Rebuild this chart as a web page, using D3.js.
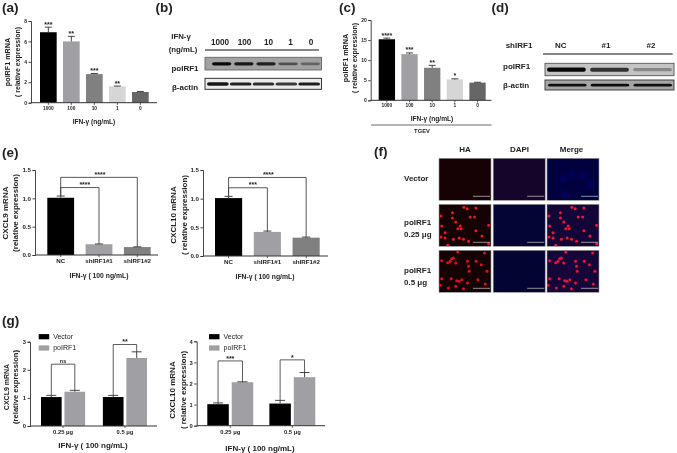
<!DOCTYPE html>
<html><head><meta charset="utf-8">
<script src="https://cdn.jsdelivr.net/npm/d3@7/dist/d3.min.js"></script>
<style>
html,body{margin:0;padding:0;background:#fff}
svg{display:block;filter:blur(0.3px)}
text{font-family:"Liberation Sans",Arial,sans-serif;fill:#222}
</style></head><body><div id="c"></div>
<script>
// ---- data ----
const doseLabels = ["1000","100","10","1","0"];
const shLabels = ["NC","shIRF1#1","shIRF1#2"];
const doseGroups = ["0.25 μg","0.5 μg"];
const gSeries = ["Vector","poIRF1"];
const doseColors = ["#000000","#a0a0a4","#808080","#d6d6d6","#666666"];
const shColors = ["#000000","#a0a0a4","#808080"];
const gColors = ["#000000","#a0a0a4"];

const aValues = [6.9,6.0,2.8,1.6,1.05];
const aErrors = [0.5,0.5,0.06,0.03,0.05];
const aStars = ["***","**","***","**",""];
const aTicks = [0,2,4,6,8];

const cValues = [15.2,11.5,8.1,5.2,4.4];
const cErrors = [0.3,0.3,0.6,0.15,0.1];
const cStars = ["****","***","**","*",""];
const cTicks = [0,5,10,15,20];

const e1Values = [1.01,0.19,0.14];
const e1Errors = [0.03,0.005,0.004];
const e2Values = [1.01,0.42,0.32];
const e2Errors = [0.03,0.015,0.01];
const eTicks = [0,0.5,1.0,1.5];
const e1Brackets = [{to:1,level:1.19,label:"****"},{to:2,level:1.37,label:"****"}];
const e2Brackets = [{to:1,level:1.19,label:"***"},{to:2,level:1.37,label:"****"}];

const g1Values = [[1.03,1.22],[1.03,2.42]];
const g1Errors = [[0.06,0.05],[0.06,0.22]];
const g1Sig = [{level:2.2,label:"ns"},{level:2.9,label:"**"}];
const g1Ticks = [0,1,2,3];
const g2Values = [[1.02,2.06],[1.05,2.3]];
const g2Errors = [[0.06,0.02],[0.15,0.22]];
const g2Sig = [{level:3.07,label:"***"},{level:3.12,label:"*"}];
const g2Ticks = [0,1,2,3,4];

// western blot band darkness per lane
const bTop = [0.95,0.85,0.8,0.5,0.38];
const bActin = [0.9,0.85,0.8,0.75,0.88];
const dTop = [0.95,0.75,0.3];
const dActin = [0.9,0.92,0.9];

// fluorescence spots (HA channel)
const spots025 = [[18,42],[52,32],[86,16],[96,20],[122,18],[52,48],[105,45],[118,45],[62,60],[75,72],[68,80],[78,80],[20,72],[30,92],[18,105],[30,108],[55,112],[72,108],[85,112],[122,86],[140,102],[160,70],[38,130],[160,125],[100,118]];
const spots05 = [[45,40],[38,44],[50,32],[55,30],[20,38],[62,45],[97,40],[100,55],[102,70],[123,40],[138,50],[155,70],[20,92],[48,92],[65,98],[80,95],[72,100],[97,105],[128,95],[15,112],[62,115],[85,122],[150,108],[40,120],[68,12],[148,15]];
const blueBlobs = [[60,68],[88,55],[120,60],[140,85],[65,115]];

// ---- helpers ----
const svg = d3.select("#c").append("svg").attr("width",677).attr("height",453).attr("viewBox","0 0 677 453");
const defs = svg.append("defs");
[["b0",0.6],["b1",0.7],["b2",1.6]].forEach(([id,s])=>defs.append("filter").attr("id",id).attr("x","-50%").attr("y","-150%").attr("width","200%").attr("height","400%").append("feGaussianBlur").attr("stdDeviation",s));

function label(x,y,t,o={}){
  const n = svg.append("text").attr("x",x).attr("y",y).text(t)
    .attr("font-size",o.size||6).attr("font-weight",o.weight||"bold")
    .attr("text-anchor",o.anchor||"middle").attr("fill",o.fill||"#222");
  if(o.rot!==undefined) n.attr("transform",`rotate(${o.rot} ${x} ${y})`);
  return n;
}
// x is the centre of the rotated line, so the baseline sits a little to its right
function yLabel(x,yc,t,size){ label(x+size*0.36,yc,t,{rot:-90,size:size}); }

function drawAxes(x0,xEnd,yScale,ticks,fmt,xScale,catFont,tickFont){
  const yA = d3.axisLeft(yScale).tickValues(ticks).tickSize(2.5).tickPadding(1.5).tickFormat(fmt);
  const gy = svg.append("g").attr("transform",`translate(${x0},0)`).call(yA);
  gy.selectAll("text").attr("font-size",tickFont).attr("font-weight","bold").attr("font-family","Liberation Sans");
  gy.selectAll("path,line").attr("stroke","#333").attr("stroke-width",0.9);
  const y0 = yScale.range()[0];
  svg.append("line").attr("x1",x0).attr("x2",xEnd).attr("y1",y0).attr("y2",y0).attr("stroke","#333").attr("stroke-width",1);
  const xA = d3.axisBottom(xScale).tickSize(2.2).tickPadding(1.5).tickSizeOuter(0);
  const gx = svg.append("g").attr("transform",`translate(0,${y0})`).call(xA);
  gx.select("path").remove();
  gx.selectAll("text").attr("font-size",catFont).attr("font-weight","bold");
  gx.selectAll("line").attr("stroke","#333").attr("stroke-width",0.8);
}
function errBar(cx,yTop,yVal,cap){
  svg.append("line").attr("x1",cx).attr("x2",cx).attr("y1",yVal).attr("y2",yTop).attr("stroke","#333").attr("stroke-width",0.9);
  svg.append("line").attr("x1",cx-cap).attr("x2",cx+cap).attr("y1",yTop).attr("y2",yTop).attr("stroke","#333").attr("stroke-width",0.9);
}
function singleBars(o){
  const y = d3.scaleLinear().domain(o.domain).range(o.yRange);
  const x = d3.scaleBand().domain(o.cats).range(o.xRange).paddingInner(o.pad).paddingOuter(0);
  svg.append("g").selectAll("rect").data(o.values).join("rect")
    .attr("x",(d,i)=>x(o.cats[i])).attr("width",x.bandwidth())
    .attr("y",d=>y(d)).attr("height",d=>y(0)-y(d)).attr("fill",(d,i)=>o.colors[i]);
  o.values.forEach((v,i)=>errBar(x(o.cats[i])+x.bandwidth()/2,y(v+o.errors[i]),y(v),o.cap));
  drawAxes(o.x0,o.xEnd,y,o.ticks,o.fmt||d3.format("d"),x,o.catFont,o.tickFont);
  if(o.stars) o.stars.forEach((s,i)=>{ if(s) label(x(o.cats[i])+x.bandwidth()/2,y(o.values[i]+o.errors[i])-0.5,s,{size:7}); });
  if(o.brackets) o.brackets.forEach(b=>{
    const cx0=x(o.cats[0])+x.bandwidth()/2, cx1=x(o.cats[b.to])+x.bandwidth()/2;
    const ly=y(b.level), a=y(o.values[0]+o.errors[0]), c=y(o.values[b.to]+o.errors[b.to]);
    svg.append("path").attr("d",`M${cx0},${a}V${ly}H${cx1}V${c}`).attr("fill","none").attr("stroke","#444").attr("stroke-width",0.9);
    label((cx0+cx1)/2+ (b.to===1?5:1),ly-0.3,b.label,{size:7});
  });
}
function groupBars(o){
  const y = d3.scaleLinear().domain(o.domain).range(o.yRange);
  const x = d3.scaleBand().domain(doseGroups).range(o.xRange).paddingInner(o.gpad).paddingOuter(0);
  const s = d3.scaleBand().domain(gSeries).range([0,x.bandwidth()]).paddingInner(0.12).paddingOuter(0);
  doseGroups.forEach((g,gi)=>{
    const cx=[];
    gSeries.forEach((ser,si)=>{
      const v=o.values[gi][si], e=o.errors[gi][si];
      svg.append("rect").attr("x",x(g)+s(ser)).attr("width",s.bandwidth()).attr("y",y(v)).attr("height",y(0)-y(v)).attr("fill",gColors[si]);
      const c=x(g)+s(ser)+s.bandwidth()/2; cx.push(c);
      errBar(c,y(v+e),y(v),o.cap);
    });
    const b=o.sig[gi], ly=y(b.level);
    svg.append("path").attr("d",`M${cx[0]},${y(o.values[gi][0]+o.errors[gi][0])}V${ly}H${cx[1]}V${y(o.values[gi][1]+o.errors[gi][1])}`).attr("fill","none").attr("stroke","#333").attr("stroke-width",0.8);
    label((cx[0]+cx[1])/2,ly-(b.label==="ns"?1.5:0.3),b.label,{size:b.label==="ns"?5.5:7});
  });
  drawAxes(o.x0,o.xEnd,y,o.ticks,d3.format("d"),x,5.8,5.8);
  gSeries.forEach((ser,i)=>{
    const ly=[336.7,348][i];
    svg.append("rect").attr("x",o.legX).attr("y",ly-2.6).attr("width",10.5).attr("height",5.2).attr("fill",gColors[i]);
    label(o.legX+14.5,ly+2.2,ser,{size:7,weight:"normal",anchor:"start",fill:"#333"});
  });
}
function blot(o){
  const x=d3.scaleBand().domain(o.levels.map((d,i)=>i)).range(o.xRange).paddingInner(o.pad).paddingOuter(0);
  svg.append("rect").attr("x",o.x).attr("y",o.y).attr("width",o.w).attr("height",o.h).attr("fill",o.bg).attr("stroke",o.border).attr("stroke-width",0.9);
  svg.append("g").selectAll("rect.band").data(o.levels).join("rect").attr("class","band")
    .attr("x",(d,i)=>x(i)).attr("width",x.bandwidth())
    .attr("y",d=>o.y+o.h/2+0.2-o.thick*(0.6+0.4*d)).attr("height",d=>2*o.thick*(0.6+0.4*d))
    .attr("rx",2).attr("fill","#000").attr("opacity",d=>d).attr("filter","url(#b0)");
}
function micro(o){
  const g=svg.append("g");
  const id="cp"+Math.round(o.x)+"_"+Math.round(o.y);
  defs.append("clipPath").attr("id",id).append("rect").attr("x",o.x).attr("y",o.y).attr("width",52).attr("height",42);
  g.append("rect").attr("x",o.x).attr("y",o.y).attr("width",52).attr("height",42).attr("fill",o.bg).attr("stroke","#999").attr("stroke-width",0.6);
  const c=g.append("g").attr("clip-path",`url(#${id})`);
  const sx=d3.scaleLinear().domain([12,167]).range([o.x,o.x+52]);
  const sy=d3.scaleLinear().domain([7,133]).range([o.y,o.y+42]);
  if(o.blobs) c.selectAll("circle.b").data(o.blobs).join("circle").attr("class","b").attr("cx",d=>sx(d[0])).attr("cy",d=>sy(d[1])).attr("r",2.8).attr("fill",o.blobColor).attr("filter","url(#b2)");
  if(o.spots) c.selectAll("circle.s").data(o.spots).join("circle").attr("class","s").attr("cx",d=>sx(d[0])).attr("cy",d=>sy(d[1])).attr("r",1.5).attr("fill",o.spotColor).attr("filter","url(#b1)");
  g.append("line").attr("x1",o.x+34).attr("x2",o.x+51).attr("y1",o.y+38).attr("y2",o.y+38).attr("stroke","#ccc").attr("stroke-width",0.7);
}

// ---- panel letters ----
[["(a)",2,12],["(b)",155.5,12],["(c)",339,12],["(d)",491.5,12],["(e)",2,156.5],["(f)",374,155.5],["(g)",2,325]]
  .forEach(d=>label(d[1],d[2],d[0],{size:13.5,anchor:"start",fill:"#111"}));

// ---- (a) ----
singleBars({cats:doseLabels,values:aValues,errors:aErrors,colors:doseColors,stars:aStars,domain:[0,8],yRange:[102.7,21],xRange:[40,148.7],pad:0.275,cap:3.5,x0:31,xEnd:157,ticks:aTicks,catFont:4.8,tickFont:5});
yLabel(7,62,"poIRF1 mRNA",7.2); yLabel(17,62,"( relative expression)",7);
label(94,124,"IFN-γ (ng/mL)",{size:6.6});

// ---- (b) ----
label(181,39,"IFN-γ",{size:7.8}); label(183,52,"(ng/mL)",{size:7.8});
[["1000",220],["100",244.5],["10",268.5],["1",290.5],["0",311]].forEach(d=>label(d[1],44.5,d[0],{size:8.2}));
svg.append("line").attr("x1",205).attr("x2",319).attr("y1",50).attr("y2",50).attr("stroke","#111").attr("stroke-width",1.1);
blot({levels:bTop,x:205,y:57.3,w:116.5,h:12.7,bg:"#a2a2a2",border:"#666",xRange:[212,320],pad:0.13,thick:1.7});
blot({levels:bActin,x:205,y:78.3,w:116.5,h:11,bg:"#ebebeb",border:"#222",xRange:[207,320],pad:0.05,thick:1.7});
label(185,70.5,"poIRF1",{size:8}); label(185,90,"β-actin",{size:8});

// ---- (c) ----
singleBars({cats:doseLabels,values:cValues,errors:cErrors,colors:doseColors,stars:cStars,domain:[0,20],yRange:[100.3,20],xRange:[378.7,485.7],pad:0.28,cap:3.5,x0:370.7,xEnd:491.5,ticks:cTicks,catFont:4.8,tickFont:5});
yLabel(345,58,"poIRF1 mRNA",7.2); yLabel(354.5,58,"( relative expression)",7);
label(432,121,"IFN-γ (ng/mL)",{size:6.6});
svg.append("line").attr("x1",371).attr("x2",491.5).attr("y1",125).attr("y2",125).attr("stroke","#444").attr("stroke-width",0.8);
label(422,133,"TGEV",{size:5.8});

// ---- (d) ----
label(519,48,"shIRF1",{size:8});
[["NC",560.7],["#1",606],["#2",651]].forEach(d=>label(d[1],48,d[0],{size:8}));
svg.append("line").attr("x1",543).attr("x2",672.7).attr("y1",54).attr("y2",54).attr("stroke","#111").attr("stroke-width",1);
blot({levels:dTop,x:545,y:63.3,w:129,h:12.4,bg:"#c4c4c4",border:"#555",xRange:[547,672],pad:0.1,thick:2.2});
blot({levels:dActin,x:545,y:80,w:129,h:10,bg:"#a6a6a6",border:"#333",xRange:[548,672],pad:0.1,thick:1.4});
label(503,69,"poIRF1",{size:8,anchor:"start"}); label(503,88,"β-actin",{size:8,anchor:"start"});

// ---- (e) ----
singleBars({cats:shLabels,values:e1Values,errors:e1Errors,colors:shColors,brackets:e1Brackets,domain:[0,1.5],yRange:[255,170],xRange:[47.3,150.7],pad:0.3,cap:4,x0:35,xEnd:158,ticks:eTicks,fmt:d3.format(".1f"),catFont:6.2,tickFont:6.2});
yLabel(5,213,"CXCL9 mRNA",8); yLabel(15.5,213,"(relative expression)",8);
label(99,278,"IFN-γ ( 100 ng/mL)",{size:6.8});
singleBars({cats:shLabels,values:e2Values,errors:e2Errors,colors:shColors,brackets:e2Brackets,domain:[0,1.5],yRange:[256,170],xRange:[215,319.7],pad:0.3,cap:4,x0:203,xEnd:328,ticks:eTicks,fmt:d3.format(".1f"),catFont:6.2,tickFont:6.2});
yLabel(173,215,"CXCL10 mRNA",8); yLabel(184,215,"( relative expression)",8);
label(265,279,"IFN-γ ( 100 ng/mL)",{size:6.8});

// ---- (f) ----
[["HA",465],["DAPI",519.5],["Merge",571.5]].forEach(d=>label(d[1],152,d[0],{size:8}));
const colX=[439,493.2,547], rowY=[158.3,204.3,250.3];
micro({x:colX[0],y:rowY[0],bg:"#160204"});
micro({x:colX[1],y:rowY[0],bg:"#16052a"});
micro({x:colX[2],y:rowY[0],bg:"#010140",blobs:blueBlobs,blobColor:"#05056c"});
micro({x:colX[0],y:rowY[1],bg:"#140204",spots:spots025,spotColor:"#f01226"});
micro({x:colX[1],y:rowY[1],bg:"#050535"});
micro({x:colX[2],y:rowY[1],bg:"#140538",spots:spots025,spotColor:"#f01436"});
micro({x:colX[0],y:rowY[2],bg:"#140204",spots:spots05,spotColor:"#e01024"});
micro({x:colX[1],y:rowY[2],bg:"#040432"});
micro({x:colX[2],y:rowY[2],bg:"#160538",spots:spots05,spotColor:"#ea1238"});
label(404,181,"Vector",{size:8,anchor:"start"});
label(404,225,"poIRF1",{size:8,anchor:"start"}); label(404,237,"0.25 μg",{size:8,anchor:"start"});
label(404,273,"poIRF1",{size:8,anchor:"start"}); label(404,285,"0.5 μg",{size:8,anchor:"start"});

// ---- (g) ----
groupBars({values:g1Values,errors:g1Errors,sig:g1Sig,domain:[0,3],yRange:[426,341.7],xRange:[41,147],gpad:0.287,cap:5,x0:30,xEnd:157,ticks:g1Ticks,legX:38.7});
yLabel(6,387,"CXCL9 mRNA",7); yLabel(15.5,387,"(relative expression)",7.6);
label(93,448,"IFN-γ ( 100 ng/mL)",{size:8});
groupBars({values:g2Values,errors:g2Errors,sig:g2Sig,domain:[0,4],yRange:[425.7,341.3],xRange:[207.3,315.3],gpad:0.26,cap:5,x0:196.7,xEnd:325,ticks:g2Ticks,legX:209});
yLabel(172,390,"CXCL10 mRNA",8); yLabel(183,390,"( relative expression)",7.8);
label(260,451,"IFN-γ ( 100 ng/mL)",{size:8});
</script></body></html>
